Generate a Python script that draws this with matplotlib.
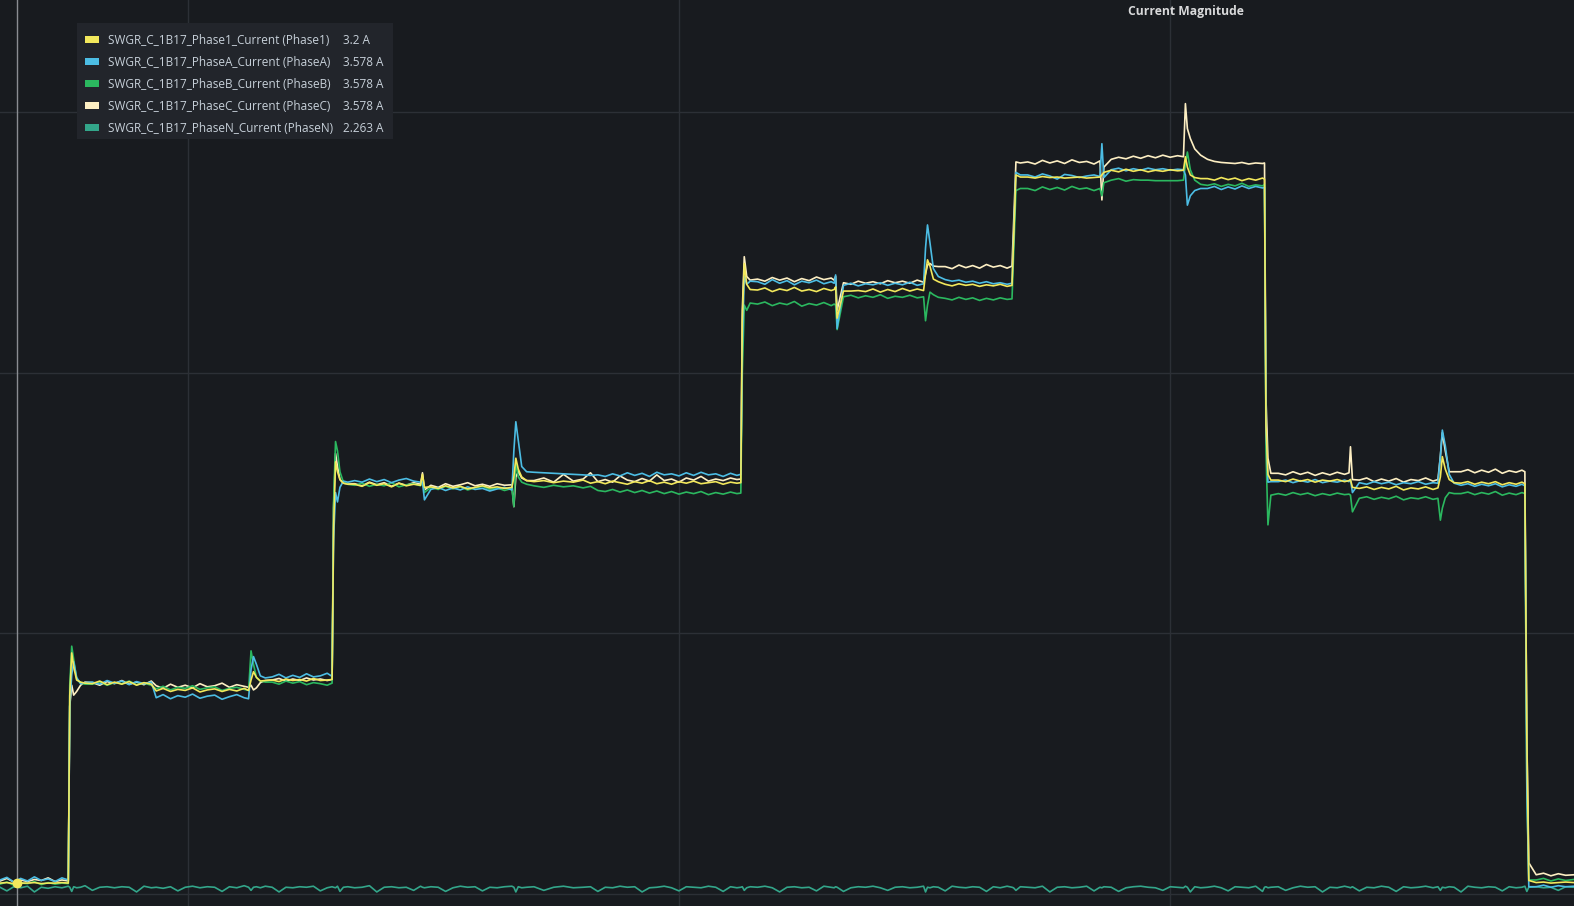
import matplotlib
matplotlib.use("Agg")
import matplotlib.pyplot as plt
from matplotlib.patches import Rectangle

# time axis in minutes, one row per segment of the trace
t = [
    6.18, 6.32, 6.46, 6.60, 6.74, 6.88, 7.02, 7.16, 7.30, 7.44, 7.57,
    7.60, 7.64, 7.68, 7.74, 7.82, 7.91,
    8.06, 8.21, 8.36, 8.51, 8.66, 8.81, 8.96, 9.11, 9.26,
    9.36, 9.50, 9.65, 9.80, 9.95, 10.10, 10.25, 10.40, 10.55, 10.70, 10.85, 11.00, 11.15, 11.24,
    11.29, 11.34, 11.40, 11.48, 11.58,
    11.72, 11.86, 12.00, 12.14, 12.28, 12.42, 12.56, 12.70, 12.84, 12.94,
    12.97, 13.01, 13.05, 13.10, 13.17, 13.26,
    13.40, 13.55, 13.70, 13.85, 14.00, 14.15, 14.30, 14.45, 14.60, 14.74,
    14.78, 14.82,
    14.95, 15.10, 15.25, 15.40, 15.55, 15.70, 15.85, 16.00, 16.15, 16.30, 16.45, 16.60,
    16.64, 16.68, 16.73, 16.80, 16.90,
    17.05, 17.25, 17.45, 17.65, 17.85, 18.05, 18.20, 18.35, 18.50, 18.65, 18.80, 18.95, 19.10, 19.25,
    19.40, 19.55, 19.70, 19.85, 20.00, 20.15, 20.30, 20.45, 20.60, 20.75, 20.90, 21.05, 21.18, 21.26,
    21.29, 21.33, 21.38, 21.45,
    21.60, 21.75, 21.90, 22.05, 22.20, 22.35, 22.50, 22.65, 22.80, 22.95, 23.10, 23.16,
    23.19, 23.22,
    23.35, 23.50, 23.65, 23.80, 23.95, 24.10, 24.25, 24.40, 24.55, 24.70, 24.85, 24.98,
    25.02, 25.06, 25.11, 25.18, 25.28,
    25.42, 25.56, 25.70, 25.84, 25.98, 26.12, 26.26, 26.40, 26.54, 26.68, 26.78,
    26.81, 26.86, 26.95,
    27.10, 27.25, 27.40, 27.55, 27.70, 27.85, 28.00, 28.15, 28.30, 28.45, 28.57,
    28.61, 28.65,
    28.80, 28.95, 29.10, 29.25, 29.40, 29.55, 29.70, 29.85, 30.00, 30.15, 30.27,
    30.31, 30.35, 30.41, 30.50, 30.62,
    30.76, 30.90, 31.04, 31.18, 31.32, 31.46, 31.60, 31.74, 31.88, 31.92,
    31.95, 31.99, 32.05,
    32.20, 32.35, 32.50, 32.65, 32.80, 32.95, 33.10, 33.25, 33.40, 33.55, 33.64,
    33.67, 33.71,
    33.85, 34.00, 34.15, 34.30, 34.45, 34.60, 34.75, 34.90, 35.05, 35.20, 35.35, 35.45,
    35.50, 35.54, 35.60, 35.68, 35.78,
    35.92, 36.06, 36.20, 36.34, 36.48, 36.62, 36.76, 36.90, 37.04, 37.16, 37.22,
    37.26, 37.30,
    37.45, 37.60, 37.75, 37.90, 38.05, 38.22,
]

# current in A
phase1 = [
    2.0, 2.1, 1.9, 2.0, 2.0, 2.1, 1.9, 2.0, 2.0, 2.1, 2.0,
    38.0, 46.2, 43.5, 41.0, 40.6, 40.4,
    40.3, 40.8, 40.1, 40.6, 40.2, 40.7, 40.0, 40.5, 40.2,
    38.9, 39.4, 38.8, 39.2, 39.0, 39.5, 38.7, 39.1, 39.3, 38.8, 39.2, 38.9, 39.4, 39.0,
    41.0, 42.6, 41.5, 40.8, 40.9,
    41.0, 40.7, 41.2, 40.9, 41.1, 40.8, 41.3, 40.9, 41.0, 41.1,
    70.0, 82.9, 81.0, 79.5, 78.8, 78.6,
    78.6, 78.2, 78.9, 78.4, 78.7, 78.1, 78.8, 78.3, 78.6, 78.4,
    80.5, 78.0,
    78.1, 77.8, 78.3, 77.9, 78.2, 77.7, 78.0, 78.3, 77.9, 78.1, 77.8, 78.0,
    80.0, 83.6, 81.5, 80.0, 79.3,
    79.1, 79.3, 78.9, 79.2, 79.0, 79.4, 78.8, 79.1, 78.7, 79.2, 78.9, 78.6, 79.1, 78.8,
    79.3, 78.7, 79.0, 78.6, 79.1, 78.8, 79.2, 78.7, 78.9, 79.1, 78.6, 79.0, 78.8, 78.9,
    110.0, 121.0, 117.0, 116.0,
    115.9, 116.3, 115.6, 116.1, 115.8, 116.4, 115.7, 116.0, 115.6, 116.2, 115.8, 116.0,
    116.5, 110.5,
    115.7, 115.7, 115.8, 115.6, 116.1, 115.5, 116.0, 115.6, 116.2, 115.7, 116.1, 115.8,
    119.0, 121.7, 120.5, 118.0, 117.5,
    117.0, 116.7, 117.1, 116.8, 117.0, 116.6, 116.9, 116.7, 117.0, 116.6, 116.8,
    125.0, 138.0, 137.6,
    137.6, 137.4, 137.7, 137.5, 137.6, 137.4, 137.5, 137.6, 137.4, 137.5, 137.6,
    138.0, 138.5,
    138.9, 138.6, 139.1, 138.7, 139.0, 138.6, 138.9, 138.7, 139.0, 138.8, 138.9,
    141.5, 139.5, 138.0, 137.5, 137.3,
    137.3, 137.0, 137.5, 137.1, 137.4, 136.9, 137.3, 137.0, 137.4, 137.2,
    90.0, 80.5, 79.4,
    79.4, 79.1, 79.6, 79.2, 79.5, 79.0, 79.4, 79.2, 79.5, 79.1, 79.3,
    79.5, 78.0,
    77.8, 78.1, 77.6, 78.0, 77.7, 78.2, 77.5, 77.9, 77.7, 78.1, 77.6, 77.9,
    80.0, 83.9, 81.5, 79.5, 78.9,
    78.8, 79.1, 78.6, 79.0, 78.7, 79.1, 78.5, 78.9, 78.6, 79.0, 78.7,
    30.0, 2.5,
    2.1, 2.2, 2.0, 2.1, 2.2, 2.1,
]

phaseA = [
    2.6, 3.1, 2.2, 2.9, 2.4, 3.2, 2.5, 2.8, 2.3, 3.0, 2.6,
    36.0, 42.0, 44.5, 41.5, 40.3, 40.5,
    40.6, 40.2, 40.9, 40.4, 40.8, 40.1, 40.7, 40.3, 40.6,
    37.6, 38.2, 37.4, 38.0, 37.7, 38.3, 37.5, 37.9, 38.1, 37.3, 37.8, 38.2, 37.6, 37.4,
    43.0, 45.5, 44.0, 41.8, 41.4,
    41.6, 42.1, 41.4, 41.9, 41.5, 42.2, 41.6, 41.8, 42.3, 41.7,
    68.0, 77.0, 75.2, 78.0, 79.2, 79.0,
    79.3, 79.0, 79.6, 79.1, 79.5, 78.9, 79.4, 79.7, 79.2, 79.0,
    79.0, 75.6,
    77.6, 78.0, 77.4, 77.9, 77.5, 78.1, 77.6, 77.8, 77.3, 77.7, 78.0, 77.5,
    85.0, 90.6, 87.0, 82.0, 81.0,
    80.9, 80.8, 80.7, 80.6, 80.5, 80.4, 80.3, 80.4, 80.1, 80.6, 80.2, 80.8, 80.3, 80.7,
    80.1, 80.9, 80.4, 80.6, 80.2, 80.8, 80.3, 80.9, 80.4, 80.6, 80.1, 80.7, 80.3, 80.5,
    105.0, 118.5, 117.0, 117.6,
    117.5, 117.0, 117.9, 117.2, 117.7, 116.9, 117.6, 117.3, 117.8, 117.1, 117.5, 117.2,
    118.8, 108.5,
    116.8, 117.2, 116.7, 117.1, 116.9, 117.3, 116.8, 117.2, 116.9, 117.4, 116.8, 117.1,
    124.0, 128.4, 125.0, 120.0, 118.5,
    117.9, 117.6, 117.8, 117.4, 117.6, 117.2, 117.5, 117.1, 117.3, 117.0, 117.2,
    125.0, 138.5, 138.0,
    138.0, 137.6, 138.2, 137.8, 137.2, 138.1, 137.9, 137.5, 137.8, 138.0, 137.7,
    144.0, 137.5,
    139.0, 139.3, 138.8, 139.2, 138.9, 139.3, 139.0, 139.2, 138.9, 139.1, 139.0,
    138.0, 132.2, 134.0, 135.0, 135.4,
    135.4, 135.8, 135.2, 135.7, 135.3, 135.9, 135.4, 135.8, 135.5, 135.6,
    90.0, 79.0, 79.1,
    79.1, 79.4, 78.9, 79.3, 79.0, 79.5, 78.9, 79.2, 79.0, 79.4, 79.1,
    79.5, 77.0,
    78.9, 78.6, 79.1, 78.7, 79.0, 78.5, 78.9, 78.7, 79.1, 78.6, 78.9, 78.8,
    84.0, 89.0, 86.0, 80.5, 78.8,
    78.4, 78.7, 78.2, 78.6, 78.3, 78.7, 78.1, 78.5, 78.2, 78.6, 78.3,
    20.0, 1.3,
    1.3, 1.6, 1.2, 1.5, 1.3, 1.4,
]

phaseB = [
    1.8, 2.2, 1.6, 2.0, 1.9, 2.3, 1.7, 2.1, 1.8, 2.0, 1.9,
    40.0, 47.5, 45.0, 41.2, 40.4, 40.2,
    40.2, 40.6, 40.0, 40.5, 40.3, 40.8, 40.1, 40.4, 40.0,
    39.3, 39.8, 39.1, 39.6, 39.4, 39.9, 39.2, 39.5, 39.7, 39.0, 39.4, 39.6, 39.2, 39.0,
    46.6, 44.0, 41.5, 40.8, 40.6,
    40.6, 40.2, 40.8, 40.4, 40.7, 40.1, 40.5, 40.3, 40.0, 40.4,
    75.0, 86.8, 85.0, 81.0, 79.0, 78.6,
    78.4, 78.8, 78.2, 78.6, 78.3, 78.9, 78.1, 78.5, 78.7, 78.3,
    79.5, 77.0,
    78.0, 77.6, 78.2, 77.7, 78.1, 77.5, 77.9, 78.2, 77.6, 77.9, 77.4, 77.8,
    74.3, 82.9, 80.0, 79.0, 78.6,
    78.3, 78.0, 78.4, 78.1, 78.3, 77.9, 78.2, 77.4, 77.2, 77.6, 77.1, 77.5, 77.0, 77.4,
    76.9, 77.3, 76.8, 77.2, 76.7, 77.1, 76.8, 77.2, 76.6, 77.0, 76.7, 77.1, 76.8, 76.9,
    100.0, 113.0, 112.0, 113.4,
    113.2, 113.6, 112.9, 113.4, 113.1, 113.7, 112.8, 113.3, 113.0, 113.5, 112.9, 113.2,
    113.0, 108.3,
    114.6, 114.9, 114.4, 114.8, 114.5, 115.0, 114.3, 114.7, 114.5, 114.9, 114.4, 114.6,
    110.0, 113.0, 115.5, 115.0, 114.5,
    114.3, 114.0, 114.5, 114.1, 114.4, 113.9, 114.3, 114.0, 114.4, 114.1, 114.2,
    122.0, 135.0, 135.4,
    135.4, 135.0, 135.7, 135.2, 135.6, 135.1, 135.8, 135.3, 135.5, 135.0, 135.4,
    134.0, 136.5,
    137.0, 137.3, 136.8, 137.1, 137.0, 137.0, 136.9, 136.9, 136.9, 136.9, 137.0,
    140.0, 142.4, 139.0, 137.0, 136.2,
    136.0, 136.3, 135.8, 136.2, 135.9, 136.4, 135.8, 136.1, 135.9, 136.2,
    85.0, 70.8, 76.5,
    76.8, 76.5, 77.0, 76.6, 76.9, 76.4, 76.8, 76.5, 76.9, 76.6, 76.7,
    76.5, 73.3,
    75.9, 76.2, 75.7, 76.1, 75.8, 76.3, 75.6, 76.0, 75.8, 76.2, 75.7, 75.9,
    71.7, 74.0, 76.0, 77.0, 76.8,
    76.8, 77.1, 76.6, 77.0, 76.7, 77.2, 76.5, 76.9, 76.6, 77.0, 76.8,
    20.0, 2.6,
    2.6, 2.9, 2.4, 2.8, 2.5, 2.7,
]

phaseC = [
    2.4, 2.9, 2.2, 2.6, 2.3, 2.7, 2.5, 3.0, 2.3, 2.6, 2.4,
    36.0, 40.0, 38.1, 38.8, 40.0, 40.6,
    40.5, 40.0, 40.7, 40.3, 40.9, 40.2, 40.6, 40.1, 40.8,
    39.9, 39.4, 40.2, 39.6, 40.0, 39.5, 40.3, 39.7, 39.9, 40.4, 39.6, 40.1, 39.8, 39.6,
    40.0, 39.1, 39.5, 40.5, 40.9,
    41.0, 41.3, 40.8, 41.2, 40.9, 41.4, 41.0, 41.2, 40.9, 41.1,
    74.0, 84.5, 82.0, 79.5, 78.8, 78.7,
    78.7, 78.3, 79.0, 78.5, 78.9, 78.2, 78.8, 78.4, 78.9, 78.6,
    80.8, 77.5,
    78.4, 78.0, 78.7, 78.2, 78.5, 78.9, 78.3, 78.6, 78.2, 78.7, 78.4, 78.5,
    74.3, 80.0, 81.0, 79.8, 79.3,
    79.3, 79.8, 79.0, 80.5, 79.2, 79.6, 80.8, 79.1, 79.5, 79.0, 80.2, 79.4, 79.1, 79.7,
    79.2, 80.4, 79.3, 79.6, 79.0, 79.8, 79.4, 80.1, 79.2, 79.6, 79.3, 79.8, 79.5, 79.6,
    112.0, 122.3, 118.5, 117.8,
    118.0, 117.6, 118.3, 117.8, 118.2, 117.5, 118.1, 117.7, 118.4, 117.9, 118.2, 117.8,
    118.5, 112.0,
    117.3, 117.0, 117.6, 117.2, 117.5, 117.1, 117.7, 117.3, 117.6, 117.2, 117.8, 117.4,
    119.0, 120.7, 121.0, 120.5, 120.4,
    120.4, 120.0, 120.7, 120.2, 120.6, 120.1, 120.8, 120.3, 120.6, 120.1, 120.5,
    128.0, 140.5, 140.3,
    140.5, 140.1, 140.8, 140.3, 140.7, 140.2, 140.9, 140.4, 140.6, 140.1, 140.7,
    133.2, 139.5,
    141.0, 141.4, 141.1, 141.6, 141.2, 141.7, 141.3, 141.8, 141.4, 141.7, 141.5,
    151.7, 146.9, 145.0, 143.0, 141.8,
    141.0, 140.6, 140.4, 140.3, 140.2, 140.4, 140.1, 140.3, 140.2, 140.3,
    95.0, 83.6, 80.7,
    80.7, 80.4, 81.0, 80.5, 80.9, 80.3, 80.8, 80.4, 80.9, 80.5, 80.8,
    85.8, 79.5,
    79.4, 79.8, 79.1, 79.6, 79.2, 79.7, 79.0, 79.5, 79.3, 79.8, 79.2, 79.5,
    84.0, 88.5, 85.0, 81.0, 81.0,
    81.0, 81.4, 80.8, 81.3, 80.9, 81.5, 80.7, 81.2, 80.9, 81.3, 81.0,
    30.0, 5.9,
    3.6, 3.9, 3.4, 3.8, 3.5, 3.6,
]

phaseN = [
    1.2, 0.5, 1.3, 1.1, 1.4, 0.3, 1.2, 1.0, 1.3, 1.1,
    1.4, 1.2, 0.4, 1.3, 1.1, 1.2, 1.5, 0.6, 1.2, 1.3,
    1.1, 1.3, 1.2, 0.3, 1.4, 1.1, 1.2, 1.0, 1.3, 0.5,
    1.2, 1.4, 1.1, 1.3, 1.2, 0.4, 1.3, 1.1, 1.5, 1.2,
    0.6, 1.2, 1.3, 1.1, 1.4, 1.2, 0.3, 1.2, 1.1, 1.3,
    1.2, 1.4, 0.5, 1.1, 1.3, 1.2, 1.1, 1.4, 0.4, 1.2,
    1.3, 1.1, 1.2, 1.5, 0.3, 1.2, 1.3, 1.1, 1.2, 0.6,
    1.4, 1.2, 1.1, 1.3, 1.2, 0.4, 1.1, 1.4, 1.2, 1.3,
    0.5, 1.2, 1.1, 1.3, 1.4, 1.2, 0.3, 1.3, 1.1, 1.2,
    1.3, 0.6, 1.2, 1.4, 1.1, 1.2, 1.3, 0.4, 1.2, 1.1,
    1.4, 1.2, 1.3, 0.3, 1.1, 1.2, 1.4, 1.1, 0.5, 1.3,
    1.2, 1.1, 1.4, 1.2, 0.4, 1.3, 1.1, 1.2, 1.3, 0.6,
    1.1, 1.3, 1.2, 1.4, 1.1, 0.3, 1.2, 1.3, 1.1, 1.2,
    0.5, 1.4, 1.2, 1.1, 1.3, 1.2, 0.4, 1.1, 1.3, 1.2,
    1.4, 1.1, 0.6, 1.2, 1.3, 1.1, 1.2, 1.4, 0.3, 1.2,
    1.1, 1.3, 1.2, 0.5, 1.4, 1.2, 1.1, 1.3, 1.2, 0.4,
    1.3, 1.1, 1.4, 1.2, 1.1, 0.6, 1.3, 1.2, 1.1, 1.4,
    0.3, 1.2, 1.3, 1.1, 1.2, 1.4, 0.5, 1.2, 1.1, 1.3,
    1.2, 0.4, 1.1, 1.3, 1.4, 1.2, 1.1, 0.6, 1.3, 1.2,
    1.1, 1.4, 1.2, 0.3, 1.3, 1.1, 1.2, 1.4, 1.1, 0.5,
    1.3, 1.2, 1.1, 1.4, 0.4, 1.2, 1.3, 1.1, 1.2, 1.3,
    0.6, 1.1, 1.4, 1.2, 1.3, 0.3, 1.2, 1.1, 1.4, 1.2,
    1.1, 1.3, 0.5, 1.2, 1.1, 1.4, 1.2, 0.4, 1.3, 1.1,
    1.2, 1.4, 1.1, 1.3, 0.6, 1.2, 1.1, 1.3, 1.2, 0.3,
    1.4, 1.2, 1.1, 1.3, 1.2, 0.5, 1.3, 1.1, 1.2, 1.4,
    0.4, 1.2, 1.3, 1.1, 1.2, 0.6, 1.3, 1.2,
]

names = ["SWGR_C_1B17_Phase1_Current (Phase1)", "SWGR_C_1B17_PhaseA_Current (PhaseA)",
         "SWGR_C_1B17_PhaseB_Current (PhaseB)", "SWGR_C_1B17_PhaseC_Current (PhaseC)",
         "SWGR_C_1B17_PhaseN_Current (PhaseN)"]
last_vals = ["3.2 A", "3.578 A", "3.578 A", "3.578 A", "2.263 A"]
colors = ["#f2e85c", "#4cbde4", "#2bb85f", "#fdefc3", "#33a68a"]

cursor_t = 6.53
cursor_val = 2.0

W, H = 1574, 906
bg = "#181b1f"
plt.rcParams['font.family'] = ['Open Sans', 'DejaVu Sans']

fig = plt.figure(figsize=(W / 100, H / 100), dpi=100, facecolor=bg)
ax = fig.add_axes([0, 0, 1, 1])
ax.set_facecolor(bg)

series = [phase1, phaseA, phaseB, phaseC, phaseN]
zorders = [6, 5, 4, 3, 2]
for ys, c, z in zip(series, colors, zorders):
    ax.plot(t, ys, color=c, lw=1.2, zorder=z, solid_joinstyle='round')

ax.set_xlim(6.18, 38.22)
ax.set_ylim(-2.4, 171.6)
ax.set_xticks([10, 20, 30])
ax.set_yticks([0, 50, 100, 150])
ax.grid(True, color="#2c3036", lw=1, zorder=0)
ax.tick_params(length=0, labelbottom=False, labelleft=False)
for s in ax.spines.values():
    s.set_visible(False)

# hover crosshair
ax.axvline(cursor_t, color="#8a8d92", lw=1, zorder=7)
ax.plot([cursor_t], [cursor_val], 'o', color=colors[0], ms=6, zorder=8)

fig.text(1186 / W, 1 - 11 / H, "Current Magnitude", color="#d8d9da",
         fontsize=8.7, fontweight='bold', ha='center', va='center')

# legend box
fig.patches.append(Rectangle((77 / W, 1 - 139 / H), (393 - 77) / W, (139 - 23) / H,
                             transform=fig.transFigure, facecolor="#22252b",
                             edgecolor="none", zorder=10))
row_y = [40, 62, 84, 106, 128]
for ry, name, val, c in zip(row_y, names, last_vals, colors):
    fig.patches.append(Rectangle((85 / W, 1 - (ry + 3) / H), 14 / W, 7 / H,
                                 transform=fig.transFigure, facecolor=c,
                                 edgecolor="none", zorder=11))
    fig.text(108 / W, 1 - ry / H, name, color="#c7d0d9", fontsize=8.5,
             ha='left', va='center', zorder=12)
    fig.text(343 / W, 1 - ry / H, val, color="#c7d0d9", fontsize=8.5,
             ha='left', va='center', zorder=12)

fig.savefig("out.png", dpi=100, facecolor=bg)
